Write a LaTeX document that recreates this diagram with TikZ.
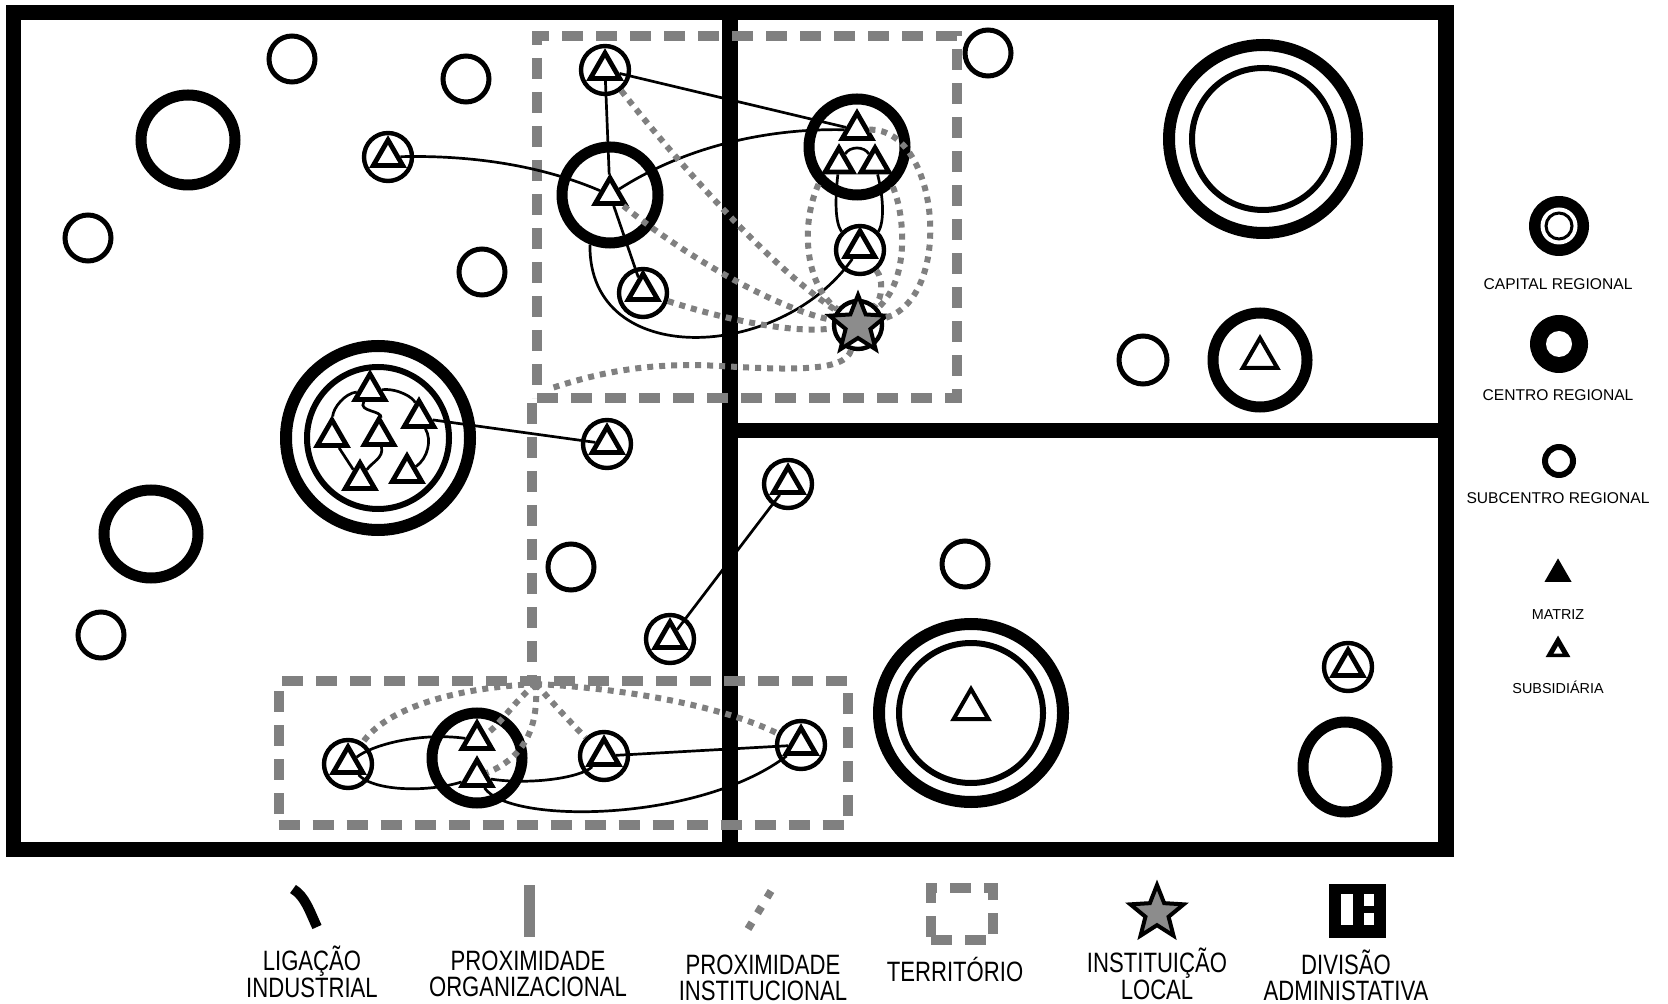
\documentclass[tikz,border=0pt]{standalone}
\usepackage{fontspec}
\setmainfont{Liberation Sans}
\newfontfamily\narrowsans[FakeStretch=0.79]{Liberation Sans}
\usetikzlibrary{shapes.geometric}
\definecolor{dgray}{RGB}{128,128,128}
\definecolor{sgray}{RGB}{140,140,140}
\pgfdeclarelayer{back}
\pgfdeclarelayer{mid}
\pgfdeclarelayer{front}
\pgfsetlayers{back,mid,main,front}
\begin{document}
\begin{tikzpicture}[x=0.5pt,y=-0.5pt,
  subc/.style={circle,draw,line width=2.5pt,minimum size=23pt,inner sep=0pt},
  subs/.style={circle,draw,line width=2.2pt,minimum size=24pt,inner sep=0pt},
  cen/.style={ellipse,draw,line width=5.5pt,inner sep=0pt},
  capo/.style={ellipse,draw,line width=6pt,inner sep=0pt},
  capi/.style={ellipse,draw,line width=3pt,inner sep=0pt},
  tri/.style={regular polygon,regular polygon sides=3,draw,line width=2.4pt,fill=white,minimum size=17pt,inner sep=0pt},
  btri/.style={tri,line width=2pt,minimum size=20pt},
  link/.style={line width=1.35pt},
  inst/.style={draw=dgray,line width=3pt,dash pattern=on 3pt off 3pt},
  terr/.style={rectangle,draw=dgray,line width=5pt,dash pattern=on 10.5pt off 6.5pt,inner sep=0pt},
  bl/.style={font=\narrowsans\fontsize{14}{14}\selectfont,inner sep=0pt,anchor=base},
  rl/.style={font=\fontsize{7.8}{9}\selectfont,inner sep=0pt,anchor=base},
  rls/.style={font=\fontsize{7.2}{9}\selectfont,inner sep=0pt,anchor=base},
]
\useasboundingbox (0,0) rectangle (1668,1004);

% ---------------- background: frame and territories
\begin{pgfonlayer}{back}
\fill[white] (0,0) rectangle (1668,1004);
\draw[line width=7.8pt] (13.5,12.5) rectangle (1446,849.5);
\draw[line width=7.8pt] (730,12.5) -- (730,849.5);
\draw[line width=7.8pt] (730,430.5) -- (1446,430.5);
\node[terr,minimum width=210pt,minimum height=181pt] (T1) at (747,217) {};
\node[terr,minimum width=284.5pt,minimum height=72pt] (T2) at (563,753) {};
\draw[terr] (T1.south west) -- (T1.south west |- T2.north);
\end{pgfonlayer}

% ---------------- left region
\node[subc] (s1) at (292,59) {};
\node[subc] (s2) at (466,79) {};
\node[cen,minimum width=47pt,minimum height=45pt] (c1) at (188,140) {};
\node[subc] (s3) at (88,238) {};
\node[subs] (u1) at (388,157) {};
\node[tri] (t1) at (388,157) {};
\node[subc] (s4) at (482,272) {};
\node[capo,minimum width=92pt,minimum height=92pt] (K1) at (378,438) {};
\node[capi,minimum width=71pt,minimum height=71pt] (K1i) at (378,438) {};
\node[tri] (k1) at (370,391) {};
\node[tri] (k2) at (332,437) {};
\node[tri] (k3) at (379,436) {};
\node[tri] (k4) at (419,418) {};
\node[tri] (k5) at (360,480) {};
\node[tri] (k6) at (407,473) {};
\node[subs] (u2) at (607,444) {};
\node[tri] (t2) at (607,444) {};
\node[cen,minimum width=47pt,minimum height=44pt] (c2) at (151,534) {};
\node[subc] (s5) at (101,635) {};
\node[subc] (s6) at (571,567) {};
\node[subs] (u3) at (670,639) {};
\node[tri] (t3) at (670,639) {};

% territory 1
\node[subs] (uA) at (605,70) {};
\node[tri] (tA) at (605,70) {};
\node[cen,minimum size=48pt] (cB) at (610,195) {};
\node[tri] (tB) at (610,195) {};
\node[subs] (uC) at (643,293) {};
\node[tri] (tC) at (643,291) {};
\node[cen,minimum size=48pt] (cD) at (857,147) {};
\node[tri] (tD1) at (857,130) {};
\node[tri,minimum size=16pt] (tD2) at (839,164) {};
\node[tri,minimum size=16pt] (tD3) at (875,164) {};
\node[subs] (uE) at (860,250) {};
\node[tri] (tE) at (860,248) {};
\node[subs] (F) at (858,325) {};
\node[star,star points=5,star point ratio=2.3,minimum size=30pt,draw,line width=2pt,fill=sgray,inner sep=0pt] (Fs) at (858,325) {};
\node[subc] (s7) at (988,53) {};

% right top region
\node[capo,minimum size=94pt] (K2) at (1263,139) {};
\node[capi,minimum size=71pt] (K2i) at (1263,139) {};
\node[subc,minimum size=24pt] (s8) at (1143,360) {};
\node[cen,minimum size=47pt] (c3) at (1260,360) {};
\node[btri] (tc3) at (1260,358) {};

% right bottom region
\node[subs] (u4) at (788,484) {};
\node[tri] (t4) at (788,484) {};
\node[subc] (s9) at (965,564) {};
\node[capo,minimum width=92pt,minimum height=89pt] (K3) at (971,713) {};
\node[capi,minimum width=72pt,minimum height=70pt] (K3i) at (971,713) {};
\node[btri] (tK3) at (971,709) {};
\node[subs] (u5) at (1348,667) {};
\node[tri] (t5) at (1348,667) {};
\node[cen,minimum width=42pt,minimum height=45pt] (c4) at (1345,767) {};

% territory 2
\node[subs] (uG) at (348,764) {};
\node[tri] (tG) at (348,764) {};
\node[cen,minimum size=45pt] (cH) at (477,758) {};
\node[tri] (tH1) at (477,740) {};
\node[tri] (tH2) at (477,777) {};
\node[subs] (uI) at (604,756) {};
\node[tri] (tI) at (604,756) {};
\node[subs] (uJ) at (801,745) {};
\node[tri] (tJ) at (801,745) {};

\coordinate (hub) at (536,684);
\coordinate (cn) at (549,389);

% ---------------- industrial links
\begin{pgfonlayer}{mid}
\draw[link] (tA) -- (tB);
\draw[link] (tA) -- (tD1);
\draw[link] (tB) .. controls (680,150) and (760,128) .. (tD1);
\draw[link] (tB) -- (tC);
\draw[link] (t1) .. controls (470,155) and (540,165) .. (tB);
\draw[link] (cB.-112) .. controls (588,370) and (780,362) .. (tE);
\draw[link] (tD2) .. controls (835,200) and (835,222) .. (uE.135);
\draw[link] (tD3) .. controls (884,200) and (884,222) .. (uE.45);
\draw[link] (tD2) .. controls (850,146) and (864,146) .. (tD3);
\draw[link] (k4) -- (t2);
\draw[link] (k1) .. controls (345,393) and (333,408) .. (k2);
\draw[link] (k1) .. controls (398,388) and (414,398) .. (k4);
\draw[link] (k4) .. controls (432,440) and (428,458) .. (k6);
\draw[link] (k2) -- (k5);
\draw[link] (k1) .. controls (358,412) and (382,410) .. (k3);
\draw[link] (k3) .. controls (384,458) and (372,462) .. (k5);
\draw[link] (t3) -- (t4);
\draw[link] (tG) .. controls (372,745) and (420,732) .. (tH1);
\draw[link] (tG) .. controls (375,792) and (430,792) .. (tH2);
\draw[link] (tH2) .. controls (530,785) and (580,778) .. (tI);
\draw[link] (tI) -- (tJ);
\draw[link] (tH2) .. controls (510,825) and (700,822) .. (tJ);
\end{pgfonlayer}

% ---------------- institutional proximity
\begin{pgfonlayer}{front}
\draw[inst] (uA) .. controls (660,140) and (760,260) .. (F);
\draw[inst] (tB) .. controls (690,260) and (780,310) .. (F);
\draw[inst] (uC) .. controls (720,318) and (790,334) .. (F);
\draw[inst] (cD.-136) .. controls (800,225) and (805,285) .. (F);
\draw[inst] (cD.-48) .. controls (905,215) and (910,280) .. (F);
\draw[inst] (uE) .. controls (884,280) and (882,298) .. (F);
\draw[inst] (tD1) .. controls (940,128) and (955,300) .. (F);
\draw[inst] (F) .. controls (845,372) and (790,370) .. (720,366) .. controls (650,362) and (600,372) .. (cn);
\draw[inst] (hub) .. controls (450,688) and (385,710) .. (uG);
\draw[inst] (hub) .. controls (515,700) and (500,725) .. (tH1);
\draw[inst] (hub) .. controls (538,720) and (530,755) .. (tH2);
\draw[inst] (hub) .. controls (550,700) and (570,722) .. (uI);
\draw[inst] (hub) .. controls (620,688) and (720,705) .. (uJ);
\end{pgfonlayer}

% ---------------- right legend
\node[circle,fill=black,minimum size=30pt,inner sep=0pt] (Lcap) at (1559,226) {};
\node[circle,fill=white,minimum size=18.5pt,inner sep=0pt] (Lcapw) at (1559,226) {};
\node[circle,draw,line width=1.5pt,minimum size=13pt,inner sep=0pt] (Lcapr) at (1559,226) {};
\node[rl] (LcapT) at (1558,290) {CAPITAL REGIONAL};
\node[circle,fill=black,minimum size=29pt,inner sep=0pt] (Lcen) at (1559,344) {};
\node[circle,fill=white,minimum size=13pt,inner sep=0pt] (Lcenw) at (1559,344) {};
\node[rl] (LcenT) at (1558,401) {CENTRO REGIONAL};
\node[circle,draw,line width=3pt,minimum size=14pt,inner sep=0pt] (Lsub) at (1559,461) {};
\node[rl] (LsubT) at (1558,504) {SUBCENTRO REGIONAL};
\node[regular polygon,regular polygon sides=3,fill=black,minimum size=15.6pt,inner sep=0pt] (Lmat) at (1558,574) {};
\node[rls] (LmatT) at (1558,619) {MATRIZ};
\node[regular polygon,regular polygon sides=3,fill=black,minimum size=14.4pt,inner sep=0pt] (Lsd) at (1558,650) {};
\node[regular polygon,regular polygon sides=3,fill=white,minimum size=5pt,inner sep=0pt] (Lsdw) at (1558,651) {};
\node[rls] (LsdT) at (1558,693) {SUBSIDIÁRIA};

% ---------------- bottom legend
\draw[line width=5pt] (293,889) .. controls (305,896) and (310,912) .. (317,927);
\node[bl] (B1a) at (312,970) {LIGAÇÃO};
\node[bl] (B1b) at (312,997) {INDUSTRIAL};
\draw[draw=dgray,line width=5.5pt] (529.5,885) -- (529.5,937);
\node[bl] (B2a) at (528,970) {PROXIMIDADE};
\node[bl] (B2b) at (528,996) {ORGANIZACIONAL};
\draw[draw=dgray,line width=3.8pt,dash pattern=on 3.8pt off 5.4pt] (771,891) -- (748,929);
\node[bl] (B3a) at (763,974) {PROXIMIDADE};
\node[bl] (B3b) at (763,1000) {INSTITUCIONAL};
\node[terr,minimum width=31pt,minimum height=26pt] (B4i) at (962,914) {};
\node[bl] (B4a) at (955,981) {TERRITÓRIO};
\node[star,star points=5,star point ratio=2.3,minimum size=28pt,draw,line width=2pt,fill=sgray,inner sep=0pt] (B5i) at (1157,913) {};
\node[bl] (B5a) at (1157,972) {INSTITUIÇÃO};
\node[bl] (B5b) at (1157,999) {LOCAL};
\fill[black] (1329,884) rectangle (1386,938);
\fill[white] (1341,894) rectangle (1353,925);
\fill[white] (1364,894) rectangle (1374,906);
\fill[white] (1364,913) rectangle (1374,925);
\node[bl] (B6a) at (1346,974) {DIVISÃO};
\node[bl] (B6b) at (1346,1000) {ADMINISTATIVA};
\end{tikzpicture}
\end{document}
